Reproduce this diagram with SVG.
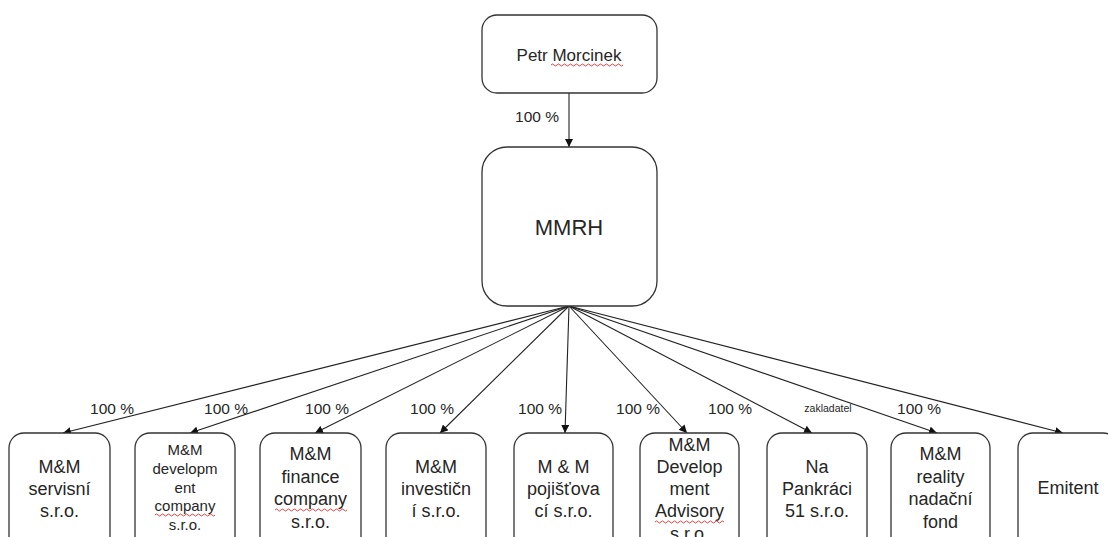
<svg xmlns="http://www.w3.org/2000/svg" width="1108" height="537" viewBox="0 0 1108 537">
<style>
.box{fill:#fff;stroke:#333;stroke-width:1.3}
.t{font-family:"Liberation Sans",Arial,sans-serif;fill:#262626;text-anchor:middle;font-size:18px}
.s{font-size:15px}
.lbl{font-family:"Liberation Sans",Arial,sans-serif;fill:#262626;text-anchor:middle;font-size:15.5px}
.edge{stroke:#222;stroke-width:1.1;fill:none;marker-end:url(#ah)}
.sq{stroke:#e03030;stroke-width:0.9;fill:none}
</style>
<defs>
<marker id="ah" viewBox="0 0 10 10" refX="10" refY="5" markerWidth="8" markerHeight="8" markerUnits="userSpaceOnUse" orient="auto">
<path d="M0,0 L10,5 L0,10 z" fill="#111"/>
</marker>
</defs>
<rect width="1108" height="537" fill="#fff"/>
<g id="connectors">
<line class="edge" x1="569" y1="93" x2="569" y2="147"/>
<line class="edge" x1="569" y1="306" x2="63" y2="433"/>
<line class="edge" x1="569" y1="306" x2="190" y2="433"/>
<line class="edge" x1="569" y1="306" x2="315" y2="433"/>
<line class="edge" x1="569" y1="306" x2="440" y2="433"/>
<line class="edge" x1="569" y1="306" x2="565" y2="433"/>
<line class="edge" x1="569" y1="306" x2="687" y2="433"/>
<line class="edge" x1="569" y1="306" x2="812" y2="433"/>
<line class="edge" x1="569" y1="306" x2="937" y2="433"/>
<line class="edge" x1="569" y1="306" x2="1063" y2="433"/>
<text class="lbl" x="537" y="122">100 %</text>
<text class="lbl" x="112" y="414">100 %</text>
<text class="lbl" x="226" y="414">100 %</text>
<text class="lbl" x="327" y="414">100 %</text>
<text class="lbl" x="432" y="414">100 %</text>
<text class="lbl" x="540" y="414">100 %</text>
<text class="lbl" x="638" y="414">100 %</text>
<text class="lbl" x="730" y="414">100 %</text>
<text class="lbl" x="828" y="412" style="font-size:10.5px">zakladatel</text>
<text class="lbl" x="919" y="414">100 %</text>
</g>
<g id="petr">
<rect class="box" x="482" y="15" width="175" height="78" rx="15"/>
<text class="t" x="569" y="61" style="font-size:17px">Petr Morcinek</text>
<path class="sq" d="M551,65 q1.5,-2 3,0 t3,0 t3,0 t3,0 t3,0 t3,0 t3,0 t3,0 t3,0 t3,0 t3,0 t3,0 t3,0 t3,0 t3,0 t3,0 t3,0 t3,0 t3,0 t3,0 t3,0 t3,0 t3,0 t3,0"/>
</g>
<g id="mmrh">
<rect class="box" x="482" y="147" width="175" height="159" rx="25"/>
<text class="t" x="569" y="235" style="font-size:22px">MMRH</text>
</g>
<g id="n1">
<rect class="box" x="9" y="433" width="101" height="130" rx="15"/>
<text class="t" x="59.5" y="473">M&amp;M</text>
<text class="t" x="59.5" y="495">servisní</text>
<text class="t" x="59.5" y="517">s.r.o.</text>
</g>
<g id="n2">
<rect class="box" x="135" y="433" width="100" height="130" rx="15"/>
<text class="t s" x="185" y="455">M&amp;M</text>
<text class="t s" x="185" y="474">developm</text>
<text class="t s" x="185" y="493">ent</text>
<text class="t s" x="185" y="511">company</text>
<text class="t s" x="185" y="530">s.r.o.</text>
<path class="sq" d="M155,515 q1.5,-2 3,0 t3,0 t3,0 t3,0 t3,0 t3,0 t3,0 t3,0 t3,0 t3,0 t3,0 t3,0 t3,0 t3,0 t3,0 t3,0 t3,0 t3,0 t3,0 t3,0"/>
</g>
<g id="n3">
<rect class="box" x="260" y="433" width="101" height="130" rx="15"/>
<text class="t" x="310.5" y="460">M&amp;M</text>
<text class="t" x="310.5" y="483">finance</text>
<text class="t" x="310.5" y="505">company</text>
<text class="t" x="310.5" y="528">s.r.o.</text>
<path class="sq" d="M275,510 q1.5,-2 3,0 t3,0 t3,0 t3,0 t3,0 t3,0 t3,0 t3,0 t3,0 t3,0 t3,0 t3,0 t3,0 t3,0 t3,0 t3,0 t3,0 t3,0 t3,0 t3,0 t3,0 t3,0 t3,0 t3,0"/>
</g>
<g id="n4">
<rect class="box" x="386" y="433" width="100" height="130" rx="15"/>
<text class="t" x="436" y="473">M&amp;M</text>
<text class="t" x="436" y="495">investičn</text>
<text class="t" x="436" y="517">í s.r.o.</text>
</g>
<g id="n5">
<rect class="box" x="514" y="433" width="99" height="130" rx="15"/>
<text class="t" x="563.5" y="473">M &amp; M</text>
<text class="t" x="563.5" y="495">pojišťova</text>
<text class="t" x="563.5" y="517">cí s.r.o.</text>
</g>
<g id="n6">
<rect class="box" x="640" y="433" width="99" height="130" rx="15"/>
<text class="t" x="689.5" y="451">M&amp;M</text>
<text class="t" x="689.5" y="473">Develop</text>
<text class="t" x="689.5" y="495">ment</text>
<text class="t" x="689.5" y="517">Advisory</text>
<text class="t" x="689.5" y="540">s.r.o.</text>
<path class="sq" d="M655,522 q1.5,-2 3,0 t3,0 t3,0 t3,0 t3,0 t3,0 t3,0 t3,0 t3,0 t3,0 t3,0 t3,0 t3,0 t3,0 t3,0 t3,0 t3,0 t3,0 t3,0 t3,0 t3,0 t3,0 t3,0"/>
</g>
<g id="n7">
<rect class="box" x="767" y="433" width="100" height="130" rx="15"/>
<text class="t" x="817" y="473">Na</text>
<text class="t" x="817" y="495">Pankráci</text>
<text class="t" x="817" y="517">51 s.r.o.</text>
</g>
<g id="n8">
<rect class="box" x="891" y="433" width="99" height="130" rx="15"/>
<text class="t" x="940.5" y="460">M&amp;M</text>
<text class="t" x="940.5" y="483">reality</text>
<text class="t" x="940.5" y="505">nadační</text>
<text class="t" x="940.5" y="528">fond</text>
</g>
<g id="n9">
<rect class="box" x="1018" y="433" width="100" height="130" rx="15"/>
<text class="t" x="1068" y="494">Emitent</text>
</g>
</svg>
